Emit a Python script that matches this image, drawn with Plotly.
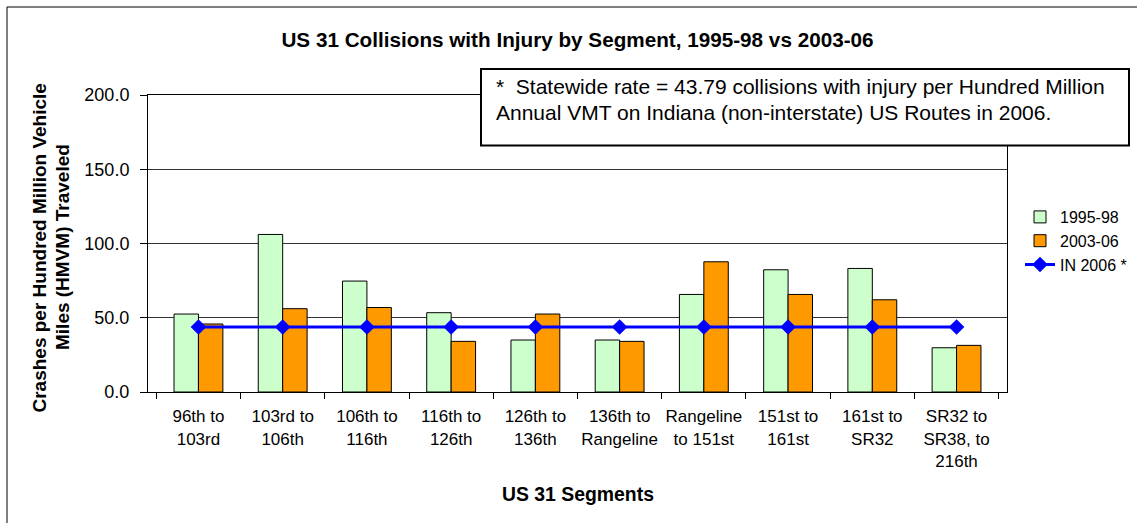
import plotly.graph_objects as go

categories = ["96th to<br>103rd", "103rd to<br>106th", "106th to<br>116th", "116th to<br>126th",
              "126th to<br>136th", "136th to<br>Rangeline", "Rangeline<br>to 151st", "151st to<br>161st",
              "161st to<br>SR32", "SR32 to<br>SR38, to<br>216th"]
rate_1995_98 = [52.5, 106.1, 74.7, 53.4, 35.0, 35.0, 65.7, 82.3, 83.2, 29.8]
rate_2003_06 = [45.8, 56.1, 56.9, 34.1, 52.5, 34.1, 87.7, 65.7, 62.1, 31.4]
statewide_2006 = [43.79] * 10
y_ticks = [0, 50, 100, 150, 200]

FONT = "Liberation Sans, Arial, sans-serif"

fig = go.Figure()
fig.add_trace(go.Bar(x=categories, y=rate_1995_98, name="1995-98",
                     marker=dict(color="#CCFFCC", line=dict(color="#000000", width=1)),
                     legendgroup="a"))
fig.add_trace(go.Bar(x=categories, y=rate_2003_06, name="2003-06",
                     marker=dict(color="#FF9900", line=dict(color="#000000", width=1)),
                     legendgroup="b"))
fig.add_trace(go.Scatter(x=categories, y=statewide_2006, name="IN 2006 *", mode="lines+markers",
                         line=dict(color="#0000FF", width=3),
                         marker=dict(symbol="diamond", size=12, color="#0000FF"),
                         legendgroup="c"))

L, R, T, B = 148, 130, 95, 131
W, H = 1137, 523
pw, ph = W - L - R, H - T - B

def px_x(x):
    return (x - L) / pw

def px_y(y):
    return (H - B - y) / ph

fig.update_layout(
    width=W, height=H,
    margin=dict(l=L, r=R, t=T, b=B, autoexpand=False),
    paper_bgcolor="white", plot_bgcolor="white",
    font=dict(family=FONT, color="#000000", size=17),
    barmode="group", bargap=0.42, bargroupgap=0,
    title=dict(text="<b>US 31 Collisions with Injury by Segment, 1995-98 vs 2003-06</b>",
               font=dict(family=FONT, size=20.7, color="#000000"),
               xref="container", x=577.5 / W, xanchor="center",
               yref="container", y=1 - 40 / H, yanchor="middle"),
    showlegend=True,
    legend=dict(x=px_x(1020), xanchor="left", y=px_y(200), yanchor="top",
                font=dict(family=FONT, size=16, color="#000000"),
                bgcolor="rgba(255,255,255,0)", tracegroupgap=9, traceorder="normal"),
    xaxis=dict(type="category", showline=True, linecolor="#000000", linewidth=1, mirror=True,
               ticks="outside", ticklen=6, tickcolor="#000000", tickson="boundaries",
               tickangle=0, automargin=False, ticklabelstandoff=9,
               showgrid=False, tickfont=dict(family=FONT, size=17, color="#000000"),
               fixedrange=True),
    yaxis=dict(range=[0, 200], tickvals=y_ticks, ticktext=[f"{v:.1f}" for v in y_ticks],
               showline=True, linecolor="#000000", linewidth=1, mirror=True,
               ticks="outside", ticklen=7, tickcolor="#000000", automargin=False,
               ticklabelstandoff=7,
               showgrid=True, gridcolor="#333333", gridwidth=1, zeroline=False,
               tickfont=dict(family=FONT, size=18, color="#000000"), fixedrange=True),
)

# Outer chart border
fig.add_shape(type="rect", xref="paper", yref="paper",
              x0=px_x(7), x1=px_x(1145), y0=px_y(530), y1=px_y(7),
              line=dict(color="#000000", width=1), fillcolor="rgba(0,0,0,0)", layer="below")

# Note box
fig.add_shape(type="rect", xref="paper", yref="paper",
              x0=px_x(481), x1=px_x(1129), y0=px_y(145.5), y1=px_y(69),
              line=dict(color="#000000", width=2), fillcolor="white", layer="above")
fig.add_annotation(text="*&nbsp;&nbsp;Statewide rate = 43.79 collisions with injury per Hundred Million",
                   xref="paper", yref="paper", x=px_x(494), y=px_y(87), xanchor="left", yanchor="middle",
                   showarrow=False, font=dict(family=FONT, size=21, color="#000000"))
fig.add_annotation(text="Annual VMT on Indiana (non-interstate) US Routes in 2006.",
                   xref="paper", yref="paper", x=px_x(494), y=px_y(112.5), xanchor="left", yanchor="middle",
                   showarrow=False, font=dict(family=FONT, size=21, color="#000000"))

# Axis titles
fig.add_annotation(text="<b>Crashes per Hundred Million Vehicle</b>", xref="paper", yref="paper",
                   x=px_x(38.5), y=px_y(248), xanchor="center", yanchor="middle", textangle=-90,
                   showarrow=False, font=dict(family=FONT, size=19, color="#000000"))
fig.add_annotation(text="<b>Miles (HMVM) Traveled</b>", xref="paper", yref="paper",
                   x=px_x(62), y=px_y(247), xanchor="center", yanchor="middle", textangle=-90,
                   showarrow=False, font=dict(family=FONT, size=19, color="#000000"))
fig.add_annotation(text="<b>US 31 Segments</b>", xref="paper", yref="paper",
                   x=px_x(577.5), y=px_y(494), xanchor="center", yanchor="middle",
                   showarrow=False, font=dict(family=FONT, size=19.4, color="#000000"))

fig.write_html("out.html", config={"displayModeBar": False},
               post_script="document.body.style.margin='0';document.body.style.padding='0';")
